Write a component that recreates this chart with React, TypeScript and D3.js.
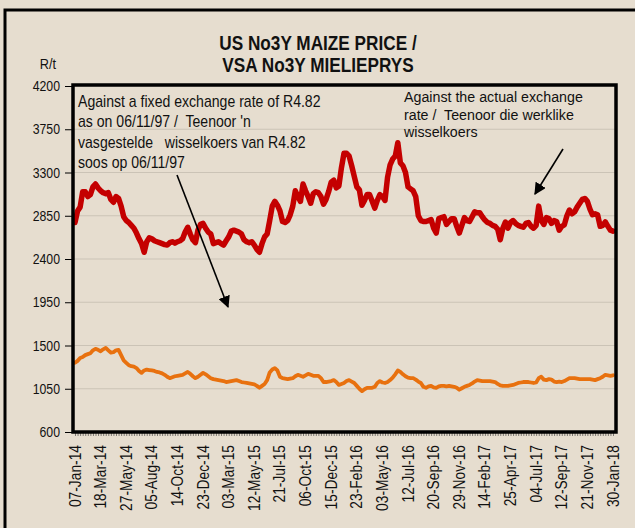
import React, { useEffect, useRef } from "react";
import * as d3 from "d3";

// weekly prices R/t, against the actual exchange rate
const actualRate = [
  2780, 2900, 2940, 3100, 3100, 3050, 3070, 3150, 3180, 3140,
  3110, 3090, 3080, 3090, 3020, 2990, 3050, 3030, 2950, 2840,
  2800, 2780, 2750, 2720, 2670, 2610, 2560, 2470, 2580, 2620,
  2610, 2590, 2580, 2570, 2560, 2550, 2545, 2570, 2580, 2565,
  2580, 2590, 2610, 2680, 2730, 2660, 2600, 2570, 2700, 2760,
  2770, 2720, 2680, 2660, 2560, 2570, 2580, 2560, 2545, 2590,
  2630, 2690, 2700, 2690, 2680, 2660, 2600, 2580, 2570, 2580,
  2545, 2500, 2470, 2560, 2630, 2660, 2800, 2950, 3000, 2960,
  2900, 2790, 2780, 2800, 2860, 2950, 3110, 3050, 3000, 3180,
  3110, 3050, 2980, 3080, 3100, 3090, 3050, 2970, 3020, 3100,
  3200, 3220, 3140, 3160, 3350, 3500, 3500, 3470, 3370, 3260,
  3150, 3120, 2960, 3010, 3070, 3070, 3000, 2930, 3010, 3070,
  3050, 3010, 3250, 3380, 3440, 3470, 3610, 3400, 3370, 3300,
  3150, 3130, 3110, 3050, 2850, 2800, 2790, 2790, 2800, 2810,
  2720, 2670, 2820, 2830, 2840, 2760, 2790, 2820, 2820, 2740,
  2670, 2750, 2830, 2800, 2790, 2840, 2890, 2880, 2880, 2840,
  2805, 2780, 2770, 2750, 2740, 2710, 2600, 2720, 2785, 2720,
  2780, 2800, 2770, 2750, 2740, 2730, 2770, 2780, 2740, 2720,
  2750, 2950, 2800, 2760, 2830, 2820, 2770, 2800, 2790, 2700,
  2740, 2755, 2850, 2910, 2870, 2890, 2940, 2980, 3020, 3030,
  3000, 2920, 2860, 2870, 2860, 2740, 2750, 2785, 2740, 2700,
  2690,
];

// weekly prices R/t, against a fixed exchange rate of R4.82
const fixedRate = [
  1320, 1340, 1370, 1380, 1400, 1410, 1420, 1450, 1465, 1455,
  1440, 1460, 1475, 1450, 1425, 1430, 1450, 1455, 1400, 1345,
  1320, 1295, 1285, 1280, 1265, 1235, 1215, 1240, 1250, 1245,
  1240, 1235, 1225, 1220, 1210, 1195, 1175, 1160, 1170, 1180,
  1185, 1190, 1195, 1210, 1225, 1205, 1180, 1160, 1175, 1195,
  1215, 1200, 1180, 1160, 1150, 1145, 1140, 1135, 1130, 1120,
  1125, 1130, 1135, 1140, 1130, 1120, 1115, 1110, 1105, 1100,
  1095, 1080, 1060, 1080, 1100, 1140, 1220, 1250, 1265, 1240,
  1175, 1160, 1155, 1150, 1155, 1160, 1180, 1195, 1185, 1175,
  1190, 1205, 1195, 1185, 1185, 1185, 1160, 1120, 1120, 1125,
  1130, 1140, 1120, 1090, 1100, 1110, 1130, 1140, 1125, 1110,
  1080, 1050, 1025, 1045, 1060, 1060, 1060, 1070, 1110, 1130,
  1115, 1110, 1120, 1140, 1165, 1200, 1240, 1225, 1200, 1180,
  1165, 1160, 1160, 1145, 1125, 1110, 1070, 1060, 1075, 1080,
  1065, 1060, 1075, 1080, 1080, 1075, 1080, 1075, 1070, 1060,
  1040, 1055, 1070, 1080, 1090, 1105, 1125, 1140, 1135, 1130,
  1130, 1130, 1130, 1125, 1120, 1100, 1085, 1080, 1080, 1080,
  1085, 1090, 1100, 1110, 1115, 1120, 1120, 1120, 1115, 1110,
  1115, 1160, 1175, 1145, 1140, 1150, 1145, 1125, 1120, 1125,
  1120, 1130, 1145, 1160, 1160, 1160, 1155, 1150, 1150, 1150,
  1150, 1150, 1145, 1140, 1150, 1160, 1175, 1195, 1190, 1185,
  1190,
];

// every 10th week carries a label
const dateLabels = [
  "07-Jan-14", "18-Mar-14", "27-May-14", "05-Aug-14", "14-Oct-14", "23-Dec-14",
  "03-Mar-15", "12-May-15", "21-Jul-15", "06-Oct-15", "15-Dec-15", "23-Feb-16",
  "03-May-16", "12-Jul-16", "20-Sep-16", "29-Nov-16", "14-Feb-17", "25-Apr-17",
  "04-Jul-17", "12-Sep-17", "21-Nov-17", "30-Jan-18",
];

const yTicks = [600, 1050, 1500, 1950, 2400, 2850, 3300, 3750, 4200];

const titleLines = ["US No3Y MAIZE PRICE /", "VSA No3Y MIELIEPRYS"];
const fixedNote = [
  "Against a fixed exchange rate of R4.82",
  "as on 06/11/97 /  Teenoor 'n",
  "vasgestelde   wisselkoers van R4.82",
  "soos op 06/11/97",
];
const actualNote = [
  "Against the actual exchange",
  "rate /  Teenoor die werklike",
  "wisselkoers",
];

// no narrow face is installed, so plain sans is squeezed sideways
const FONT = "'Liberation Sans', Arial, sans-serif";

const Chart = () => {
  const svgRef = useRef(null);

  useEffect(() => {
    const W = 635;
    const H = 528;
    const plot = { left: 73, right: 616, top: 85, bottom: 432 };

    const svg = d3.select(svgRef.current);
    svg.selectAll("*").remove();
    svg.attr("width", W).attr("height", H);

    const narrowText = (g, px, py, size, sx, anchor, content, weight = "normal") =>
      g.append("text")
        .attr("transform", `translate(${px},${py}) scale(${sx},1)`)
        .attr("text-anchor", anchor)
        .attr("font-family", FONT)
        .attr("font-size", size)
        .attr("font-weight", weight)
        .attr("fill", "#111")
        .style("white-space", "pre")
        .text(content);

    // background and outer frame
    svg.append("rect").attr("width", W).attr("height", H).attr("fill", "#e6ddcf");
    svg.append("rect")
      .attr("x", 5).attr("y", 10).attr("width", 660).attr("height", 560)
      .attr("fill", "none").attr("stroke", "#000").attr("stroke-width", 3);

    const x = d3.scalePoint()
      .domain(d3.range(actualRate.length))
      .range([plot.left + 2, plot.right - 3]);

    const y = d3.scaleLinear()
      .domain([600, 4200])
      .range([plot.bottom, plot.top + 1]);

    // gridlines
    svg.append("g")
      .selectAll("line")
      .data(yTicks.slice(1, -1))
      .join("line")
      .attr("x1", plot.left).attr("x2", plot.right)
      .attr("y1", (d) => y(d)).attr("y2", (d) => y(d))
      .attr("stroke", "#cbc3b6").attr("stroke-width", 1);

    // y axis
    const yAxis = svg.append("g")
      .attr("transform", `translate(${plot.left},0)`)
      .call(d3.axisLeft(y).tickValues(yTicks).tickSize(8).tickFormat(() => ""));
    yAxis.select(".domain").remove();
    yAxis.selectAll("line").attr("stroke", "#000");

    const yLabels = svg.append("g");
    yTicks.forEach((t) => narrowText(yLabels, 60, y(t) + 5, 15, 0.82, "end", String(t)));

    // x axis, one tick per week
    const xAxis = svg.append("g")
      .attr("transform", `translate(0,${plot.bottom})`)
      .call(d3.axisBottom(x).tickSize(4).tickFormat(() => ""));
    xAxis.select(".domain").remove();
    xAxis.selectAll("line").attr("stroke", "#333").attr("stroke-width", 0.6);

    svg.append("g")
      .selectAll("text")
      .data(dateLabels)
      .join("text")
      .attr("transform", (d, i) => `translate(${x(i * 10) + 5.5},${plot.bottom + 13}) rotate(-90) scale(0.92,1.05)`)
      .attr("text-anchor", "end")
      .attr("font-family", FONT)
      .attr("font-size", 15)
      .attr("fill", "#111")
      .text((d) => d);

    // series
    const line = d3.line()
      .x((d, i) => x(i))
      .y((d) => y(d))
      .curve(d3.curveLinear);

    svg.append("path")
      .datum(fixedRate)
      .attr("d", line)
      .attr("fill", "none")
      .attr("stroke", "#e8710f")
      .attr("stroke-width", 3.8)
      .attr("stroke-linejoin", "round")
      .attr("stroke-linecap", "round");

    svg.append("path")
      .datum(actualRate)
      .attr("d", line)
      .attr("fill", "none")
      .attr("stroke", "#c40000")
      .attr("stroke-width", 5.5)
      .attr("stroke-linejoin", "round")
      .attr("stroke-linecap", "round");

    // plot frame
    svg.append("rect")
      .attr("x", plot.left).attr("y", plot.top)
      .attr("width", plot.right - plot.left).attr("height", plot.bottom - plot.top)
      .attr("fill", "none").attr("stroke", "#000").attr("stroke-width", 3.5);

    // title and unit
    const head = svg.append("g");
    titleLines.forEach((t, i) => narrowText(head, 318, 50 + i * 22, 20, 0.86, "middle", t, "bold"));
    narrowText(head, 56, 69, 15, 0.85, "start", "R/t").attr("text-anchor", "end");

    // annotations
    const notes = svg.append("g");
    fixedNote.forEach((t, i) => narrowText(notes, 78, 107 + i * 20.3, 16, 0.88, "start", t));
    actualNote.forEach((t, i) => narrowText(notes, 404, 102 + i * 17.5, 15, 0.95, "start", t));

    // arrows
    svg.append("defs").append("marker")
      .attr("id", "head")
      .attr("viewBox", "0 0 10 10")
      .attr("refX", 9).attr("refY", 5)
      .attr("markerWidth", 12).attr("markerHeight", 12)
      .attr("markerUnits", "userSpaceOnUse")
      .attr("orient", "auto")
      .append("path")
      .attr("d", "M0,0 L10,5 L0,10 z")
      .attr("fill", "#000");

    svg.append("line")
      .attr("x1", 177).attr("y1", 175).attr("x2", 228).attr("y2", 307)
      .attr("stroke", "#000").attr("stroke-width", 1.6)
      .attr("marker-end", "url(#head)");

    svg.append("line")
      .attr("x1", 563).attr("y1", 149).attr("x2", 535).attr("y2", 194)
      .attr("stroke", "#000").attr("stroke-width", 1.6)
      .attr("marker-end", "url(#head)");
  }, []);

  return (
    <svg
      ref={svgRef}
      style={{ position: "absolute", left: 0, top: 0, display: "block" }}
    ></svg>
  );
};

export default function App() {
  return <Chart />;
}
